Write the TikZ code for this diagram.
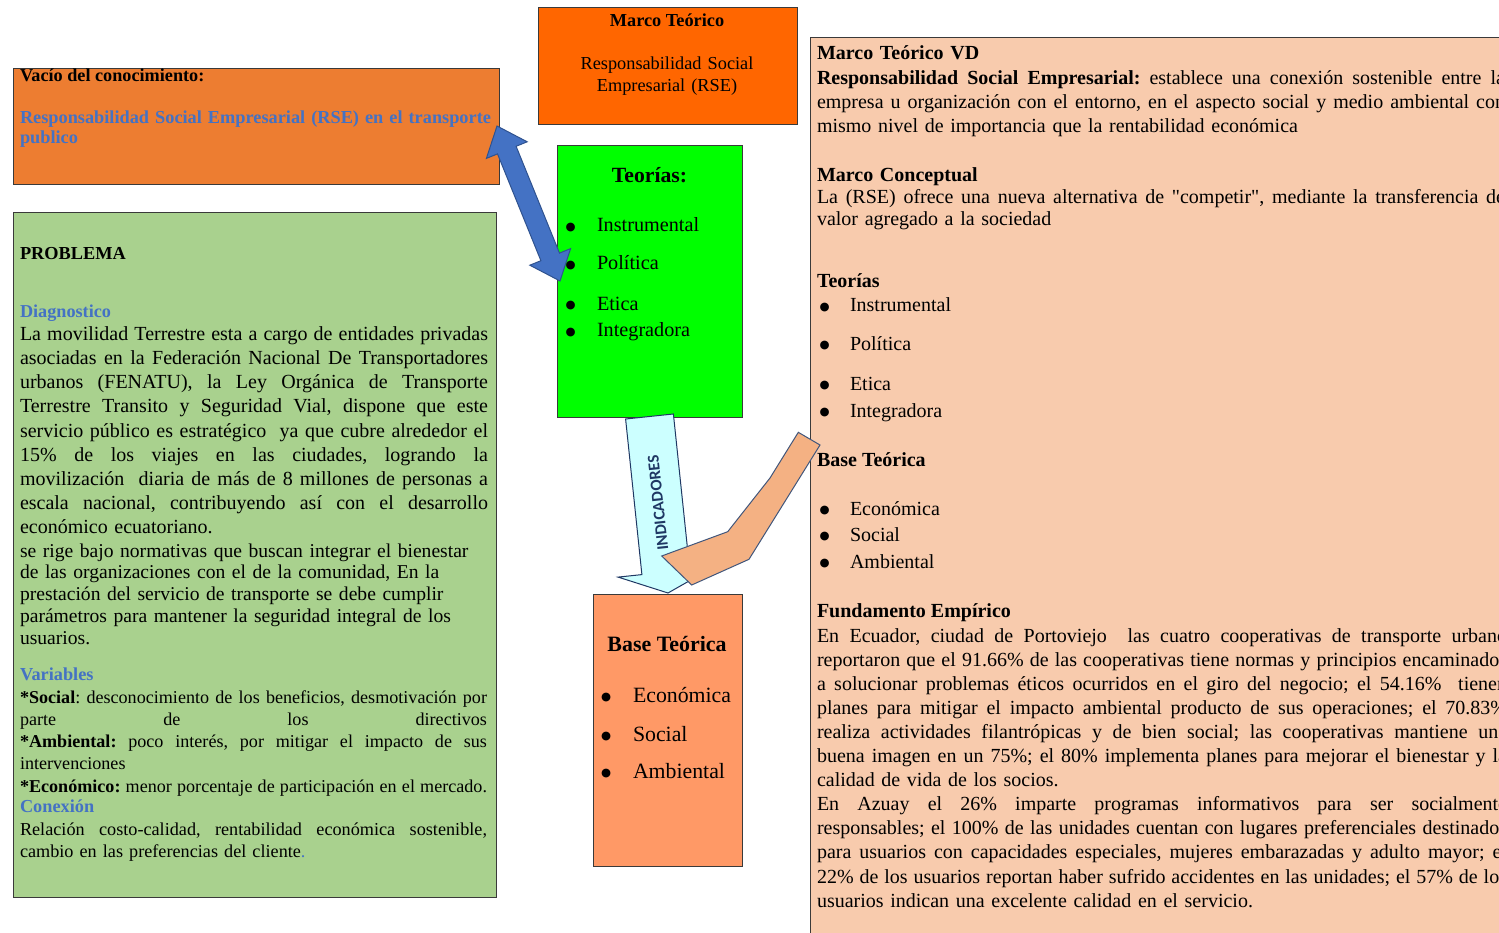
\documentclass[tikz,border=0pt]{standalone}
\usepackage{fontspec}
\setmainfont{Liberation Serif}
\newfontfamily\indfont{Carlito}
\newfontfamily\dvfont{DejaVu Sans}
\newfontfamily\qf{Liberation Serif}[Ligatures=TeXOff]
\definecolor{cVac}{HTML}{ED7D31}
\definecolor{cMT}{HTML}{FF6600}
\definecolor{cProb}{HTML}{A9D18E}
\definecolor{cTeo}{HTML}{00FF00}
\definecolor{cBase}{HTML}{FF9966}
\definecolor{cRight}{HTML}{F8CBAD}
\definecolor{cBlue}{HTML}{4472C4}
\definecolor{cBlueDk}{HTML}{2F528F}
\definecolor{cCyan}{HTML}{CCFFFF}
\definecolor{cPeach}{HTML}{F4B183}
\definecolor{cNavy}{HTML}{1F3864}
\definecolor{cBorder}{HTML}{3A3A3A}
\newcommand\jl[2]{\makebox[#1pt][s]{\spaceskip=0.25em plus 1fil minus 0.085em\relax #2}}
\newcommand\bu{\raisebox{1.2pt}{\dvfont\fontsize{11.5}{12}\selectfont ●}}
\begin{document}
\frenchspacing
\begin{tikzpicture}[x=1pt,y=-1pt,
  box/.style={draw=cBorder, line width=1.3pt, rectangle, inner sep=0pt, anchor=north west},
  txt/.style={anchor=base west, inner sep=0pt, outer sep=0pt},
  ctxt/.style={anchor=base, inner sep=0pt, outer sep=0pt, align=center},
  para/.style={anchor=base west, inner sep=0pt, outer sep=0pt, text width=#1pt, align=left},
  bul/.style={txt},
]
\useasboundingbox (0,0) rectangle (1499,933);
\clip (0,0) rectangle (1499,933);

% ---------- boxes ----------
\node[box, fill=cRight, minimum width=720pt, minimum height=920pt] (rbox) at (810,37) {};
\node[box, fill=cVac, minimum width=486pt, minimum height=116pt] (vac) at (13,68) {};
\node[box, fill=cMT, minimum width=259pt, minimum height=117pt] (mt) at (538,7) {};
\node[box, fill=cProb, minimum width=483pt, minimum height=685pt] (prob) at (13,212) {};
\node[box, fill=cTeo, minimum width=185pt, minimum height=272pt] (teo) at (557,145) {};
\node[box, fill=cBase, minimum width=149pt, minimum height=272pt] (base) at (593,594) {};

% ---------- Vacío ----------
\node[txt, font=\fontsize{18.2}{20}\selectfont\bfseries] (vacT) at (20,82) {Vacío del conocimiento:};
\node[para=471, font=\fontsize{18.3}{20}\selectfont\bfseries, text=cBlue] (vacB) at (20,124)
  {\jl{471}{Responsabilidad Social Empresarial (RSE) en el transporte}\\publico};

% ---------- Marco Teórico ----------
\node[ctxt, font=\fontsize{18.3}{22}\selectfont\bfseries] (mtT) at (667,27) {Marco Teórico};
\node[ctxt, text width=250pt, font=\fontsize{18.3}{22}\selectfont] (mtB) at (667,70)
  {Responsabilidad Social\\Empresarial (RSE)};

% ---------- Problema ----------
\node[txt, font=\fontsize{18.3}{22}\selectfont\bfseries] (pT) at (20,260) {PROBLEMA};
\node[txt, font=\fontsize{18.2}{22}\selectfont\bfseries, text=cBlue] (pD) at (20,317) {Diagnostico};
\node[para=468, font=\fontsize{20}{24.25}\selectfont] (pP1) at (20,340)
  {\jl{468}{La movilidad Terrestre esta a cargo de entidades privadas}\\
   \jl{468}{asociadas en la Federación Nacional De Transportadores}\\
   \jl{468}{urbanos (FENATU), la Ley Orgánica de Transporte}\\
   \jl{468}{Terrestre Transito y Seguridad Vial, dispone que este}\\
   \jl{468}{servicio público es estratégico\ \ ya que cubre alrededor el}\\
   \jl{468}{15\% de los viajes en las ciudades, logrando la}\\
   \jl{468}{movilización\ \ diaria de más de 8 millones de personas a}\\
   \jl{468}{escala nacional, contribuyendo así con el desarrollo}\\
   económico ecuatoriano.};
\node[para=470, font=\fontsize{19.6}{21.75}\selectfont] (pP2) at (20,557)
  {se rige bajo normativas que buscan integrar el bienestar\\
   de las organizaciones con el de la comunidad, En la\\
   prestación del servicio de transporte se debe cumplir\\
   parámetros para mantener la seguridad integral de los\\
   usuarios.};
\node[txt, font=\fontsize{18.3}{22}\selectfont\bfseries, text=cBlue] (pV) at (20,680) {Variables};
\node[para=467, font=\fontsize{18.1}{22.3}\selectfont] (pVt) at (20,703)
  {\jl{467}{\textbf{*Social}: desconocimiento de los beneficios, desmotivación por}\\
   \jl{467}{parte de los directivos}\\
   \jl{467}{\textbf{*Ambiental:} poco interés, por mitigar el impacto de sus}\\
   intervenciones\\
   \jl{467}{\textbf{*Económico:} menor porcentaje de participación en el mercado.}};
\node[txt, font=\fontsize{18.3}{22}\selectfont\bfseries, text=cBlue] (pC) at (20,812) {Conexión};
\node[para=467, font=\fontsize{18.2}{22}\selectfont] (pCt) at (20,835)
  {\jl{467}{Relación costo-calidad, rentabilidad económica sostenible,}\\
   cambio en las preferencias del cliente{\color{cBlue}.}};

% ---------- Right box ----------
\node[para=688, font=\fontsize{20}{24.3}\selectfont] (rA) at (817,60)
  {\textbf{Marco Teórico VD}\\
   \jl{688}{\textbf{Responsabilidad Social Empresarial:} establece una conexión sostenible entre la}\\
   \jl{688}{empresa u organización con el entorno, en el aspecto social y medio ambiental con}\\
   mismo nivel de importancia que la rentabilidad económica};
\node[para=688, font=\fontsize{20}{22}\selectfont] (rB) at (817,182)
  {\textbf{Marco Conceptual}\\
   \jl{688}{La (RSE) ofrece una nueva alternativa de {\qf"}competir{\qf"}, mediante la transferencia de}\\
   valor agregado a la sociedad};
\node[txt, font=\fontsize{20}{24}\selectfont\bfseries] (rT) at (817,288) {Teorías};
\node[bul, font=\fontsize{20}{24}\selectfont] (rT1) at (819.5,312) {\makebox[30.5pt][l]{\bu}Instrumental};
\node[bul, font=\fontsize{20}{24}\selectfont] (rT2) at (819.5,350) {\makebox[30.5pt][l]{\bu}Política};
\node[bul, font=\fontsize{20}{24}\selectfont] (rT3) at (819.5,390) {\makebox[30.5pt][l]{\bu}Etica};
\node[bul, font=\fontsize{20}{24}\selectfont] (rT4) at (819.5,417) {\makebox[30.5pt][l]{\bu}Integradora};
\node[txt, font=\fontsize{20}{24}\selectfont\bfseries] (rBT) at (817,466) {Base Teórica};
\node[bul, font=\fontsize{20}{24}\selectfont] (rB1) at (819.5,515) {\makebox[30.5pt][l]{\bu}Económica};
\node[bul, font=\fontsize{20}{24}\selectfont] (rB2) at (819.5,541) {\makebox[30.5pt][l]{\bu}Social};
\node[bul, font=\fontsize{20}{24}\selectfont] (rB3) at (819.5,568) {\makebox[30.5pt][l]{\bu}Ambiental};
\node[txt, font=\fontsize{20}{24}\selectfont\bfseries] (rF) at (817,617) {Fundamento Empírico};
\node[para=690, font=\fontsize{20}{24.1}\selectfont] (rFt) at (817,642)
  {\jl{690}{En Ecuador, ciudad de Portoviejo\ \ las cuatro cooperativas de transporte urbano}\\
   \jl{690}{reportaron que el 91.66\% de las cooperativas tiene normas y principios encaminados}\\
   \jl{690}{a solucionar problemas éticos ocurridos en el giro del negocio; el 54.16\%\ \ tienen}\\
   \jl{690}{planes para mitigar el impacto ambiental producto de sus operaciones; el 70.83\%}\\
   \jl{690}{realiza actividades filantrópicas y de bien social; las cooperativas mantiene una}\\
   \jl{690}{buena imagen en un 75\%; el 80\% implementa planes para mejorar el bienestar y la}\\
   calidad de vida de los socios.\\
   \jl{690}{En Azuay el 26\% imparte programas informativos para ser socialmente}\\
   \jl{690}{responsables; el 100\% de las unidades cuentan con lugares preferenciales destinados}\\
   \jl{690}{para usuarios con capacidades especiales, mujeres embarazadas y adulto mayor; el}\\
   \jl{690}{22\% de los usuarios reportan haber sufrido accidentes en las unidades; el 57\% de los}\\
   usuarios indican una excelente calidad en el servicio.};

% ---------- Base Teórica box text ----------
\node[ctxt, font=\fontsize{21.9}{24}\selectfont\bfseries] (bT) at (667,651) {Base Teórica};
\node[bul, font=\fontsize{21.8}{24}\selectfont] (b1) at (601,702) {\makebox[32pt][l]{\bu}Económica};
\node[bul, font=\fontsize{21.8}{24}\selectfont] (b2) at (601,741) {\makebox[32pt][l]{\bu}Social};
\node[bul, font=\fontsize{21.8}{24}\selectfont] (b3) at (601,778) {\makebox[32pt][l]{\bu}Ambiental};

% ---------- INDICADORES arrow ----------
\filldraw[fill=cCyan, draw=cNavy, line width=1pt]
  (625.6,419.0) -- (673.4,414.0) -- (689.7,569.6) -- (713.5,567.1) -- (668,593)
  -- (618.1,577.1) -- (641.9,574.6) -- cycle;
\node[font=\indfont\bfseries\fontsize{16.5}{18}\selectfont, text=cNavy, rotate=96, inner sep=0pt] (ind) at (658,503) {INDICADORES};

% ---------- bent peach shape ----------
\filldraw[fill=cPeach, draw=cNavy!85, line width=1pt]
  (798.3,432.3) -- (820,445) -- (749,559.3) -- (691.7,585) -- (661.7,556)
  -- (727.7,531.7) -- (770,478) -- cycle;

% ---------- blue double arrow ----------
\filldraw[fill=cBlue, draw=cBlueDk, line width=1pt]
  (497,126) -- (527.2,141.8) -- (516.1,146.3) -- (559.5,253.1) -- (570.6,248.6)
  -- (560,281) -- (529.8,265.2) -- (540.9,260.7) -- (497.5,153.9) -- (486.4,158.4) -- cycle;

% ---------- Teorías box text ----------
\node[ctxt, font=\fontsize{21.7}{24}\selectfont\bfseries] (tT) at (649.5,183) {Teorías:};
\node[bul, font=\fontsize{20.2}{24}\selectfont] (t1) at (565.5,232) {\makebox[31.5pt][l]{\bu}Instrumental};
\node[bul, font=\fontsize{20.2}{24}\selectfont] (t2) at (565.5,270) {\makebox[31.5pt][l]{\bu}Política};
\node[bul, font=\fontsize{20.2}{24}\selectfont] (t3) at (565.5,310) {\makebox[31.5pt][l]{\bu}Etica};
\node[bul, font=\fontsize{20.2}{24}\selectfont] (t4) at (565.5,337) {\makebox[31.5pt][l]{\bu}Integradora};
\end{tikzpicture}
\end{document}
